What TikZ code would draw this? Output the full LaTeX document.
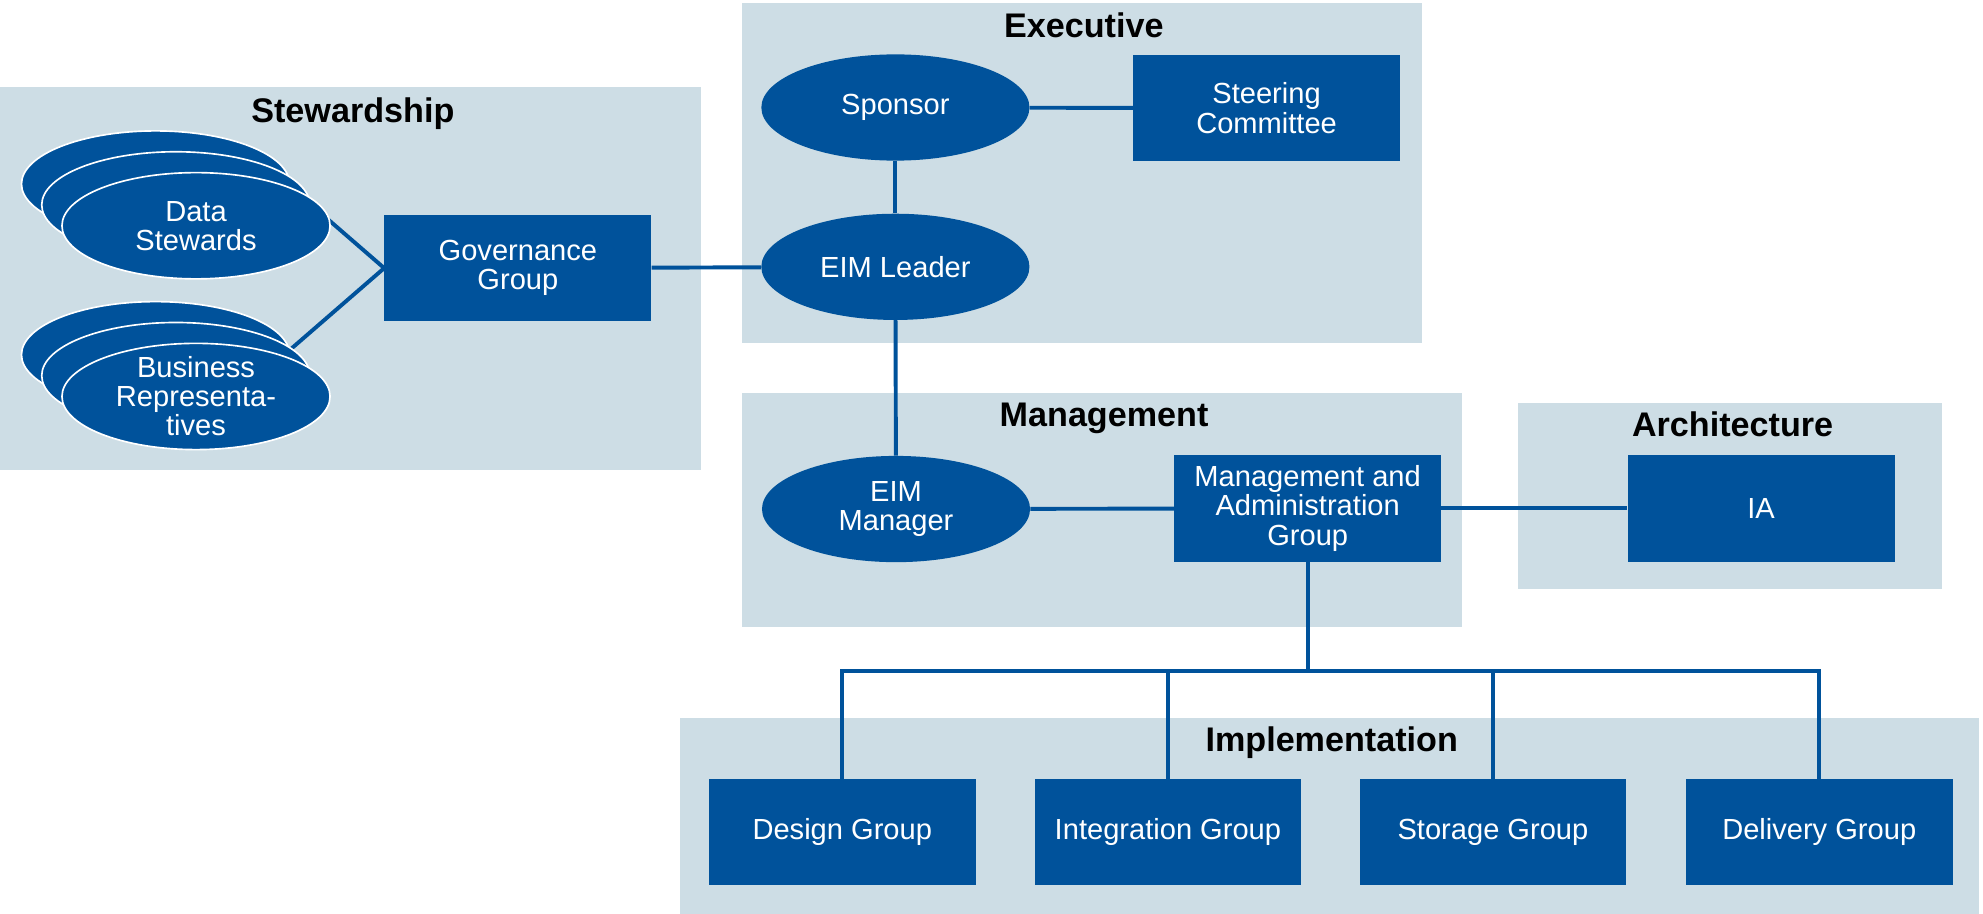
\documentclass[tikz,border=0pt]{standalone}
\usepackage{fontspec}
\setmainfont{Liberation Sans}
\usetikzlibrary{shapes.geometric}
\definecolor{eimblue}{RGB}{0,82,155}
\definecolor{panelfill}{RGB}{205,221,229}
\pgfdeclarelayer{background}
\pgfsetlayers{background,main}
\begin{document}
\begin{tikzpicture}[x=1pt,y=-1pt,
  paneltitle/.style={font=\fontsize{27}{27}\selectfont\bfseries,text=black,inner sep=0,anchor=base},
  labelfont/.style={font=\fontsize{23}{23}\selectfont,text=white,align=center},
  oval/.style={ellipse,fill=eimblue,draw=none,minimum width=212,minimum height=84,inner sep=0,labelfont},
  stackoval/.style={ellipse,fill=eimblue,draw=white,line width=1.3pt,minimum width=212,minimum height=84,inner sep=0},
  ovaltext/.style={labelfont,inner sep=0},
  box/.style={rectangle,fill=eimblue,draw=none,minimum width=211,minimum height=84,inner sep=0,labelfont},
  link/.style={draw=eimblue,line width=3.1pt}]
\useasboundingbox (0,0) rectangle (1568,722.7);

% panels
\begin{pgfonlayer}{background}
\fill[panelfill] (0,69) rectangle (554,372);
\fill[panelfill] (587,2) rectangle (1124,271);
\fill[panelfill] (587,311) rectangle (1156,496);
\fill[panelfill] (1200,319) rectangle (1535.5,466);
\fill[panelfill] (538,568) rectangle (1565,722.7);
\end{pgfonlayer}

% titles
\node[paneltitle] (tstew) at (279,97) {Stewardship};
\node[paneltitle] (texec) at (857,29.5) {Executive};
\node[paneltitle] (tmgmt) at (873,337.5) {Management};
\node[paneltitle] (tarch) at (1370,345.5) {Architecture};
\node[paneltitle] (timpl) at (1053,594.5) {Implementation};

% executive
\node[oval] (sponsor) at (708,85) {Sponsor};
\node[box] (steer) at (1001.5,85.5) {Steering\\Committee};
\node[oval] (leader) at (708,211) {EIM Leader};

% stewardship
\node[box] (gov) at (409.5,212) {Governance\\Group};
\node[stackoval] (ds3) at (123,145.5) {};
\node[stackoval] (ds2) at (139,162) {};
\node[stackoval] (ds1) at (155,178.5) {};
\node[ovaltext] (dstext) at (ds1) {Data\\Stewards};
\node[stackoval] (br3) at (123,280.5) {};
\node[stackoval] (br2) at (139,297) {};
\node[stackoval] (br1) at (155,313.5) {};
\node[ovaltext] (brtext) at (br1) {Business\\Representa-\\tives};
\coordinate (dsend) at (215,135);
\coordinate (brend) at (215,289);

% management
\node[oval] (mgr) at (708.5,402.5) {EIM\\Manager};
\node[box] (mag) at (1034,402) {Management and\\Administration\\Group};
\node[box] (ia) at (1392.5,402) {IA};

% implementation
\node[box] (design) at (666,658) {Design Group};
\node[box] (integ) at (923.5,658) {Integration Group};
\node[box] (storage) at (1180.5,658) {Storage Group};
\node[box] (delivery) at (1438.5,658) {Delivery Group};
\coordinate (bus) at (1034,530.5);

% connectors
\begin{pgfonlayer}{background}
\draw[link] (sponsor) -- (steer);
\draw[link] (sponsor) -- (leader);
\draw[link] (gov) -- (leader);
\draw[link] (leader) -- (mgr);
\draw[link] (mgr) -- (mag);
\draw[link] (mag) -- (ia);
\draw[link] (gov.west) -- (dsend);
\draw[link] (gov.west) -- (brend);
\draw[link] (mag.south) -- (bus);
\draw[link] (design.north) -- (design.north |- bus) -- (delivery.north |- bus) -- (delivery.north);
\draw[link] (integ.north) -- (integ.north |- bus);
\draw[link] (storage.north) -- (storage.north |- bus);
\end{pgfonlayer}
\end{tikzpicture}
\end{document}
